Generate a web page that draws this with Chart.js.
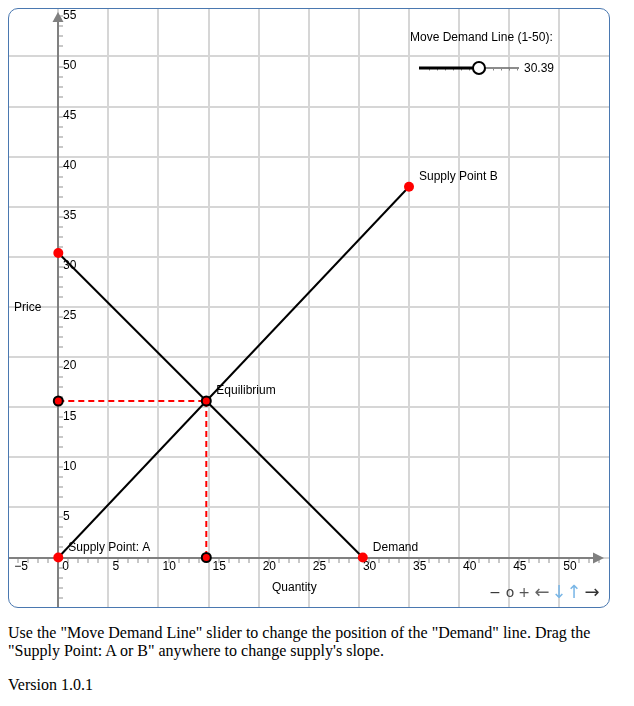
<!DOCTYPE html>
<html>
<head>
<meta charset="utf-8">
<script src="https://cdn.jsdelivr.net/npm/chart.js@4"></script>
<style>
  body {
    margin: 8px;
    font-family: "Liberation Serif", "Times New Roman", serif;
    font-size: 16px;
    color: #000;
  }
  #applet {
    width: 600px;
    height: 598px;
    border: 1px solid #4a78b0;
    border-radius: 10px;
    overflow: hidden;
  }
  #applet canvas { display: block; }
  p { margin: 16px 0; }
</style>
</head>
<body>
<div id="applet"><canvas id="sdChart" width="600" height="598"></canvas></div>
<p>Use the "Move Demand Line" slider to change the position of the "Demand" line. Drag the "Supply Point: A or B" anywhere to change supply's slope.</p>
<p>Version 1.0.1</p>

<script>
// values
const demandShift = 30.39;
const demandX = [0, 30.39];
const demandY = [30.39, 0];
const supplyX = [0, 35];
const supplyY = [0, 37];
const equilibriumX = 14.77;
const equilibriumY = 15.62;

const xGridValues = [-5, 0, 5, 10, 15, 20, 25, 30, 35, 40, 45, 50];
const yGridValues = [0, 5, 10, 15, 20, 25, 30, 35, 40, 45, 50];
const xTickLabels = ["\u22125", "0", "5", "10", "15", "20", "25", "30", "35", "40", "45", "50"];
const xTickValues = [-5, 0, 5, 10, 15, 20, 25, 30, 35, 40, 45, 50];
const yTickLabels = ["5", "10", "15", "20", "25", "30", "35", "40", "45", "50", "55"];
const yTickValues = [5, 10, 15, 20, 25, 30, 35, 40, 45, 50, 55];

const sliderMin = 1;
const sliderMax = 50;

const FONT = '12px "Liberation Sans", Arial, sans-serif';

const toPoints = (xs, ys) => xs.map((x, i) => ({ x: x, y: ys[i] }));

// axes, arrows, small ticks, numbers, slider and captions
const geoPlugin = {
  id: "geoPlugin",
  beforeDatasetsDraw(chart) {
    const ctx = chart.ctx;
    const xs = chart.scales.x;
    const ys = chart.scales.y;
    const x0 = Math.round(xs.getPixelForValue(0));
    const y0 = Math.round(ys.getPixelForValue(0));
    ctx.save();

    // minor ticks
    ctx.strokeStyle = "#c8c8c8";
    ctx.lineWidth = 2;
    for (let v = -4; v <= 54; v++) {
      if (v % 5 === 0) continue;
      const px = Math.round(xs.getPixelForValue(v));
      ctx.beginPath();
      ctx.moveTo(px, y0);
      ctx.lineTo(px, y0 + 5);
      ctx.stroke();
    }
    for (let v = -4; v <= 54; v++) {
      if (v % 5 === 0) continue;
      const py = Math.round(ys.getPixelForValue(v));
      ctx.beginPath();
      ctx.moveTo(x0, py);
      ctx.lineTo(x0 + 5, py);
      ctx.stroke();
    }

    // axes
    ctx.strokeStyle = "#808080";
    ctx.fillStyle = "#808080";
    ctx.lineWidth = 2;
    ctx.beginPath();
    ctx.moveTo(0, y0);
    ctx.lineTo(588, y0);
    ctx.moveTo(x0, chart.height);
    ctx.lineTo(x0, 10);
    ctx.stroke();
    ctx.beginPath();
    ctx.moveTo(595, y0);
    ctx.lineTo(584, y0 - 5.5);
    ctx.lineTo(584, y0 + 5.5);
    ctx.closePath();
    ctx.fill();
    ctx.beginPath();
    ctx.moveTo(x0, 3);
    ctx.lineTo(x0 - 5.5, 13);
    ctx.lineTo(x0 + 5.5, 13);
    ctx.closePath();
    ctx.fill();

    // numbers
    ctx.fillStyle = "#000";
    ctx.font = FONT;
    ctx.textAlign = "left";
    ctx.textBaseline = "middle";
    xTickValues.forEach((v, i) => {
      const px = xs.getPixelForValue(v);
      ctx.fillText(xTickLabels[i], px + (v < 0 ? 6 : 4), y0 + 9);
    });
    yTickValues.forEach((v, i) => {
      const py = ys.getPixelForValue(v);
      ctx.fillText(yTickLabels[i], x0 + 5, py + 9);
    });

    // axis titles
    ctx.fillText("Price", 5, 299);
    ctx.fillText("Quantity", 263, 579);
    ctx.restore();
  },
  afterDatasetsDraw(chart) {
    const ctx = chart.ctx;
    const xs = chart.scales.x;
    const ys = chart.scales.y;
    ctx.save();
    ctx.font = FONT;
    ctx.fillStyle = "#000";
    ctx.textAlign = "left";
    ctx.textBaseline = "middle";
    const label = (text, x, y) => {
      ctx.fillText(text, xs.getPixelForValue(x) + 10, ys.getPixelForValue(y) - 10);
    };
    label("Supply Point: A", supplyX[0], supplyY[0]);
    label("Supply Point B", supplyX[1], supplyY[1]);
    label("Demand", demandX[1], demandY[1]);
    label("Equilibrium", equilibriumX, equilibriumY);

    // slider
    ctx.fillText("Move Demand Line (1-50):", 401, 29);
    const sx0 = 410, sx1 = 510, sy = 59;
    const knob = sx0 + (demandShift - sliderMin) / (sliderMax - sliderMin) * (sx1 - sx0);
    ctx.strokeStyle = "#666";
    ctx.lineWidth = 1.5;
    ctx.beginPath();
    ctx.moveTo(knob, sy);
    ctx.lineTo(sx1, sy);
    ctx.stroke();
    ctx.fillStyle = "#888";
    for (let t = sx0 + 10; t < sx1; t += 8) {
      ctx.fillRect(t, sy + 1, 1, 1.5);
    }
    ctx.strokeStyle = "#000";
    ctx.lineWidth = 3;
    ctx.beginPath();
    ctx.moveTo(sx0, sy);
    ctx.lineTo(knob, sy);
    ctx.stroke();
    ctx.fillStyle = "#fff";
    ctx.lineWidth = 2;
    ctx.beginPath();
    ctx.arc(knob, sy, 6, 0, Math.PI * 2);
    ctx.fill();
    ctx.stroke();
    ctx.fillStyle = "#000";
    ctx.fillText(demandShift.toFixed(2), 515, sy + 0.5);

    // navigation buttons bottom right
    ctx.textAlign = "center";
    const nav = [
      ["\u2212", 486, "#333", 14], ["o", 501, "#444", 14], ["+", 515, "#555", 14],
      ["\u2190", 533, "#666", 18], ["\u2193", 550, "#79b6e6", 18], ["\u2191", 565, "#79b6e6", 18],
      ["\u2192", 583, "#333", 18]
    ];
    nav.forEach(([t, x, c, s]) => {
      ctx.font = s + 'px "DejaVu Sans", sans-serif';
      ctx.fillStyle = c;
      ctx.fillText(t, x, 584);
    });
    ctx.restore();
  }
};

const ctx = document.getElementById("sdChart");
new Chart(ctx, {
  type: "scatter",
  data: {
    datasets: [
      {
        label: "Equilibrium",
        data: [
          { x: 0, y: equilibriumY },
          { x: equilibriumX, y: equilibriumY },
          { x: equilibriumX, y: 0 }
        ],
        showLine: false,
        pointRadius: 4.5,
        pointBackgroundColor: "#ff0000",
        pointBorderColor: "#000",
        pointBorderWidth: 2
      },
      {
        label: "Demand",
        data: toPoints(demandX, demandY),
        showLine: true,
        borderColor: "#000",
        borderWidth: 2,
        pointRadius: 5,
        pointBackgroundColor: "#ff0000",
        pointBorderWidth: 0
      },
      {
        label: "Supply",
        data: toPoints(supplyX, supplyY),
        showLine: true,
        borderColor: "#000",
        borderWidth: 2,
        pointRadius: 5,
        pointBackgroundColor: "#ff0000",
        pointBorderWidth: 0
      },
      {
        label: "Price guide",
        data: [{ x: 0, y: equilibriumY }, { x: equilibriumX, y: equilibriumY }],
        showLine: true,
        borderColor: "#ff0000",
        borderWidth: 2,
        borderDash: [6, 4],
        pointRadius: 0
      },
      {
        label: "Quantity guide",
        data: [{ x: equilibriumX, y: equilibriumY }, { x: equilibriumX, y: 0 }],
        showLine: true,
        borderColor: "#ff0000",
        borderWidth: 2,
        borderDash: [6, 4],
        pointRadius: 0
      }
    ]
  },
  options: {
    responsive: false,
    animation: false,
    devicePixelRatio: 1,
    layout: { padding: 0, autoPadding: false },
    plugins: {
      legend: { display: false },
      tooltip: { enabled: false }
    },
    scales: {
      x: {
        type: "linear",
        min: -4.92,
        max: 54.96,
        afterBuildTicks: (scale) => {
          scale.ticks = xGridValues.map((v) => ({ value: v }));
        },
        ticks: { display: false },
        border: { display: false },
        grid: { color: "#d6d6d6", lineWidth: 2, drawTicks: false }
      },
      y: {
        type: "linear",
        min: -4.94,
        max: 54.74,
        afterBuildTicks: (scale) => {
          scale.ticks = yGridValues.map((v) => ({ value: v }));
        },
        ticks: { display: false },
        border: { display: false },
        grid: { color: "#d6d6d6", lineWidth: 2, drawTicks: false }
      }
    }
  },
  plugins: [geoPlugin]
});
</script>
</body>
</html>
